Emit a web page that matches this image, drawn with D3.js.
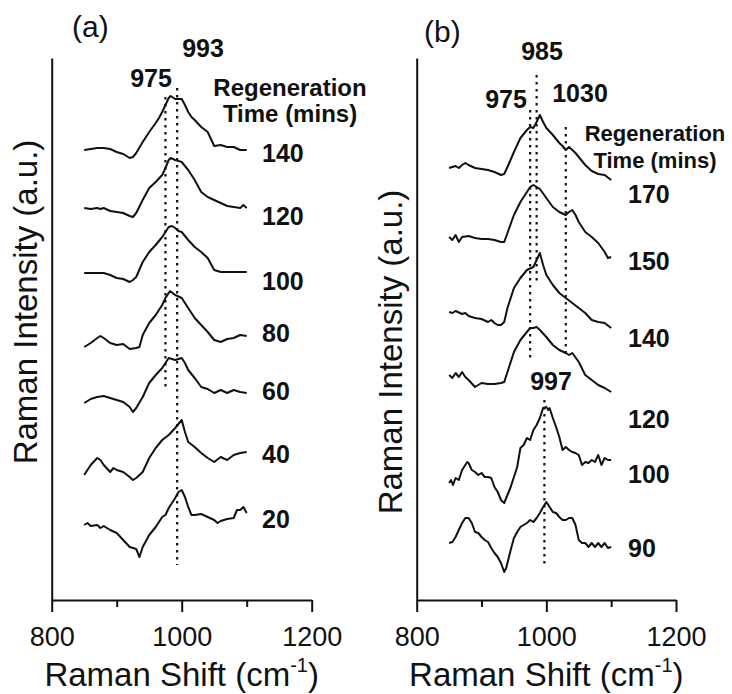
<!DOCTYPE html>
<html>
<head>
<meta charset="utf-8">
<script src="https://cdn.jsdelivr.net/npm/d3@7"></script>
<style>
  body { margin: 0; background: #fff; }
  svg { display: block; font-family: Arial, "Liberation Sans", sans-serif; }
</style>
</head>
<body>
<svg id="chart" width="732" height="694"></svg>
<script>
// ---- axis ticks ----
const majorTicks = [800, 1000, 1200];
const minorTicks = [900, 1100];
const xDomain = [800, 1200];
const yDomain = [0, 542];   // arbitrary intensity units (stacked spectra)

// ---- panel (a): regeneration times (mins) and spectra [shift, intensity] ----
const timesA = ["140", "120", "100", "80", "60", "40", "20"];
const specA140 = [[850,450],[860,451],[870,452],[880,452],[890,451],[900,448],[910,446],[920,442],[925,443],[930,447],[940,458],[950,468],[960,477],[965,482],[970,488],[975,495],[980,502],[983,504],[990,501],[995,501],[1000,501],[1005,495],[1010,488],[1015,483],[1020,480],[1030,473],[1040,468],[1050,454],[1060,455],[1070,453],[1080,453],[1090,450],[1100,450]];
const specA120 = [[850,392],[860,391],[870,392],[875,391],[880,392],[890,389],[900,388],[910,387],[920,384],[925,383],[930,387],[940,400],[950,412],[960,418],[970,425],[975,432],[980,440],[983,442],[990,440],[1000,438],[1010,430],[1020,420],[1030,408],[1040,403],[1050,400],[1060,397],[1070,394],[1080,393],[1090,392],[1095,395],[1100,392]];
const specA100 = [[850,327],[860,327],[870,327],[880,327],[890,325],[900,322],[910,321],[920,318],[925,320],[930,323],[940,338],[950,348],[960,355],[970,363],[975,368],[980,373],[985,374],[990,372],[995,369],[1000,368],[1010,360],[1020,353],[1030,348],[1040,342],[1050,330],[1060,328],[1070,328],[1080,328],[1090,328],[1100,328]];
const specA80 = [[850,253],[860,257],[870,262],[875,264],[880,262],[890,257],[900,255],[910,256],[920,251],[930,252],[935,253],[940,265],[950,277],[960,285],[970,295],[975,302],[982,309],[990,305],[1000,302],[1010,292],[1020,282],[1030,275],[1040,268],[1050,260],[1060,258],[1070,261],[1080,262],[1090,265],[1100,264]];
const specA60 = [[850,197],[860,201],[870,203],[880,204],[890,202],[900,200],[910,198],[920,193],[925,188],[930,192],[940,203],[950,217],[960,225],[970,232],[975,237],[980,242],[990,240],[1000,242],[1005,237],[1010,230],[1020,222],[1030,213],[1040,211],[1050,207],[1060,210],[1070,207],[1080,210],[1090,208],[1100,207]];
const specA40 = [[850,125],[860,135],[870,142],[875,140],[880,135],[890,128],[895,132],[900,130],[910,128],[920,123],[925,120],[930,122],[940,128],[950,142],[960,152],[970,160],[980,165],[990,172],[1000,180],[1005,168],[1010,158],[1020,153],[1030,147],[1040,142],[1050,138],[1060,143],[1070,140],[1080,145],[1090,147],[1100,148]];
const specA20 = [[850,75],[855,77],[860,74],[870,75],[875,72],[880,74],[890,70],[900,67],[910,60],[920,53],[930,51],[935,43],[940,53],[950,65],[960,73],[970,83],[975,85],[980,92],[990,102],[995,108],[1000,110],[1005,103],[1010,93],[1015,85],[1020,85],[1030,86],[1040,83],[1050,80],[1055,77],[1060,79],[1070,81],[1080,82],[1085,90],[1090,90],[1095,93],[1100,87]];
const peaksA = [975, 993];
const peakTopA = [503, 512];
const peakBottomA = [213, 35];

// ---- panel (b) ----
const timesB = ["170", "150", "140", "120", "100", "90"];
const specB170 = [[850,432],[855,433],[860,434],[865,432],[870,435],[875,437],[880,435],[890,432],[900,431],[910,430],[920,428],[930,425],[935,426],[940,433],[950,448],[960,462],[970,470],[975,473],[980,472],[985,478],[990,485],[995,478],[1000,472],[1010,465],[1020,457],[1025,454],[1030,450],[1035,453],[1040,450],[1045,447],[1050,443],[1060,435],[1070,429],[1080,426],[1090,425],[1100,420]];
const specB150 = [[850,363],[855,360],[860,365],[865,358],[870,363],[880,364],[890,362],[900,361],[910,361],[920,360],[930,358],[935,358],[940,367],[950,385],[960,398],[970,408],[975,413],[980,415],[985,413],[990,411],[1000,402],[1010,393],[1020,388],[1030,385],[1035,388],[1040,390],[1045,385],[1050,378],[1060,368],[1070,363],[1080,357],[1090,348],[1095,342],[1100,343]];
const specB140 = [[850,288],[855,287],[860,289],[870,286],[875,287],[880,284],[890,282],[900,281],[910,278],[915,280],[920,277],[925,275],[930,275],[935,278],[940,292],[950,312],[960,322],[970,330],[980,333],[985,340],[990,347],[995,335],[1000,325],[1010,315],[1020,307],[1030,302],[1040,297],[1050,292],[1060,287],[1070,280],[1080,278],[1090,277],[1100,272]];
const specB120 = [[850,225],[855,222],[860,227],[865,223],[870,228],[875,223],[880,220],[890,213],[900,217],[910,216],[920,216],[930,217],[935,218],[940,228],[950,248],[960,260],[970,268],[975,272],[980,272],[985,273],[990,270],[1000,263],[1010,255],[1020,250],[1030,247],[1035,245],[1040,247],[1050,238],[1060,225],[1070,220],[1080,215],[1090,212],[1100,208]];
const specB100 = [[850,117],[853,120],[856,115],[860,122],[865,120],[870,130],[875,135],[878,138],[880,137],[885,130],[890,128],[895,125],[900,127],[905,123],[910,123],[915,122],[920,113],[925,108],[930,100],[935,97],[940,105],[945,113],[950,123],[955,133],[960,152],[965,155],[970,162],[975,160],[980,170],[985,175],[990,182],[995,192],[1000,193],[1003,190],[1005,192],[1010,182],[1015,173],[1020,163],[1025,150],[1030,153],[1035,150],[1040,148],[1045,147],[1050,145],[1055,135],[1060,138],[1065,137],[1070,140],[1075,138],[1080,145],[1085,135],[1090,142],[1095,140],[1100,140]];
const specB90 = [[850,57],[855,58],[860,63],[865,70],[870,77],[875,82],[880,82],[885,77],[890,68],[895,67],[900,63],[905,60],[910,58],[915,52],[920,47],[925,43],[930,37],[935,28],[938,32],[940,37],[945,50],[950,62],[955,68],[960,73],[965,75],[970,77],[975,80],[980,78],[985,82],[990,87],[995,93],[1000,98],[1005,93],[1010,88],[1015,87],[1020,83],[1025,80],[1030,80],[1035,82],[1040,82],[1045,75],[1050,60],[1055,57],[1060,57],[1065,53],[1070,57],[1075,53],[1080,57],[1085,53],[1090,57],[1095,52],[1100,53]];
const peaksB = [975, 985, 1030, 997];
const peakTopB = [490, 525, 473, 200];
const peakBottomB = [240, 315, 243, 33];

const svg = d3.select("#chart");
const font = "Arial, 'Liberation Sans', sans-serif";

function drawPanel(cfg) {
  const x = d3.scaleLinear().domain(xDomain).range([cfg.x0, cfg.x1]);
  const y = d3.scaleLinear().domain(yDomain).range([600, 58]);
  const g = svg.append("g");

  // spectra
  const line = d3.line().x(d => x(d[0])).y(d => y(d[1]));
  g.selectAll("path.spec").data(cfg.spectra).join("path")
    .attr("class", "spec")
    .attr("d", line)
    .attr("fill", "none")
    .attr("stroke", "#111")
    .attr("stroke-width", 2)
    .attr("stroke-linejoin", "round");

  // dotted peak markers
  g.selectAll("line.peak").data(cfg.peaks).join("line")
    .attr("class", "peak")
    .attr("x1", d => x(d)).attr("x2", d => x(d))
    .attr("y1", (d, i) => y(cfg.peakTop[i]))
    .attr("y2", (d, i) => y(cfg.peakBottom[i]))
    .attr("stroke", "#111")
    .attr("stroke-width", 2.2)
    .attr("stroke-dasharray", "2.5,4.5");

  // x axis with major labelled ticks
  const ax = g.append("g").attr("transform", "translate(0,600)")
    .call(d3.axisBottom(x).tickValues(majorTicks).tickSize(12).tickSizeOuter(0).tickPadding(15).tickFormat(d3.format("d")));
  ax.select(".domain").attr("stroke", "#111").attr("stroke-width", 2);
  ax.selectAll(".tick line").attr("stroke", "#111").attr("stroke-width", 2);
  ax.selectAll(".tick text").attr("font-size", 27).attr("font-family", font).attr("fill", "#111");

  // minor ticks
  const mx = g.append("g").attr("transform", "translate(0,600)")
    .call(d3.axisBottom(x).tickValues(minorTicks).tickSize(7).tickFormat(""));
  mx.select(".domain").remove();
  mx.selectAll(".tick line").attr("stroke", "#111").attr("stroke-width", 2);

  // y axis (no ticks)
  const ay = g.append("g").attr("transform", `translate(${cfg.x0},0)`)
    .call(d3.axisLeft(y).tickValues([]).tickSizeOuter(0));
  ay.select(".domain").attr("stroke", "#111").attr("stroke-width", 2);

  // axis titles
  const xt = g.append("text")
    .attr("x", x(1000)).attr("y", 686)
    .attr("text-anchor", "middle")
    .attr("font-size", 33).attr("font-family", font).attr("fill", "#111");
  xt.append("tspan").text("Raman Shift (cm");
  xt.append("tspan").text("-1").attr("font-size", 20).attr("dy", -14);
  xt.append("tspan").text(")").attr("dy", 14);

  g.append("text")
    .attr("transform", `translate(${cfg.yTitleX},${cfg.yTitleY}) rotate(-90)`)
    .attr("text-anchor", "middle")
    .attr("font-size", 33).attr("font-family", font).attr("fill", "#111")
    .text("Raman Intensity (a.u.)");

  // panel letter
  g.append("text").attr("x", cfg.letterX).attr("y", cfg.letterY)
    .attr("font-size", 30).attr("font-family", font).attr("fill", "#111")
    .text(cfg.letter);

  // bold annotations
  const bold = (t, px, py, size, anchor) => g.append("text")
    .attr("x", px).attr("y", py).attr("text-anchor", anchor || "start")
    .attr("font-size", size).attr("font-weight", "bold")
    .attr("font-family", font).attr("fill", "#111").text(t);

  cfg.peakLabels.forEach(p => bold(p.t, p.x, p.y, 25, "middle"));
  bold("Regeneration", cfg.regen.x, cfg.regen.y, cfg.regen.size, "middle");
  bold("Time (mins)", cfg.regen.x, cfg.regen.y2, cfg.regen.size, "middle");
  cfg.times.forEach((t, i) => bold(t, cfg.timeX, cfg.timeY[i], 25, "start"));
}

drawPanel({
  x0: 51.7, x1: 311.7,
  spectra: [specA140, specA120, specA100, specA80, specA60, specA40, specA20],
  peaks: peaksA, peakTop: peakTopA, peakBottom: peakBottomA,
  yTitleX: 37, yTitleY: 302,
  letter: "(a)", letterX: 72, letterY: 37,
  peakLabels: [{t: "975", x: 151, y: 87}, {t: "993", x: 203, y: 57}],
  regen: {x: 290, y: 96, y2: 122, size: 24},
  times: timesA, timeX: 262,
  timeY: [162, 225, 290, 342, 400, 463, 528]
});

drawPanel({
  x0: 416.7, x1: 676,
  spectra: [specB170, specB150, specB140, specB120, specB100, specB90],
  peaks: peaksB, peakTop: peakTopB, peakBottom: peakBottomB,
  yTitleX: 402, yTitleY: 352,
  letter: "(b)", letterX: 424, letterY: 42,
  peakLabels: [{t: "985", x: 542, y: 60}, {t: "975", x: 506, y: 108}, {t: "1030", x: 580, y: 102}, {t: "997", x: 551, y: 390}],
  regen: {x: 655, y: 141, y2: 168, size: 22},
  times: timesB, timeX: 628,
  timeY: [203, 270, 347, 428, 483, 557]
});
</script>
</body>
</html>
